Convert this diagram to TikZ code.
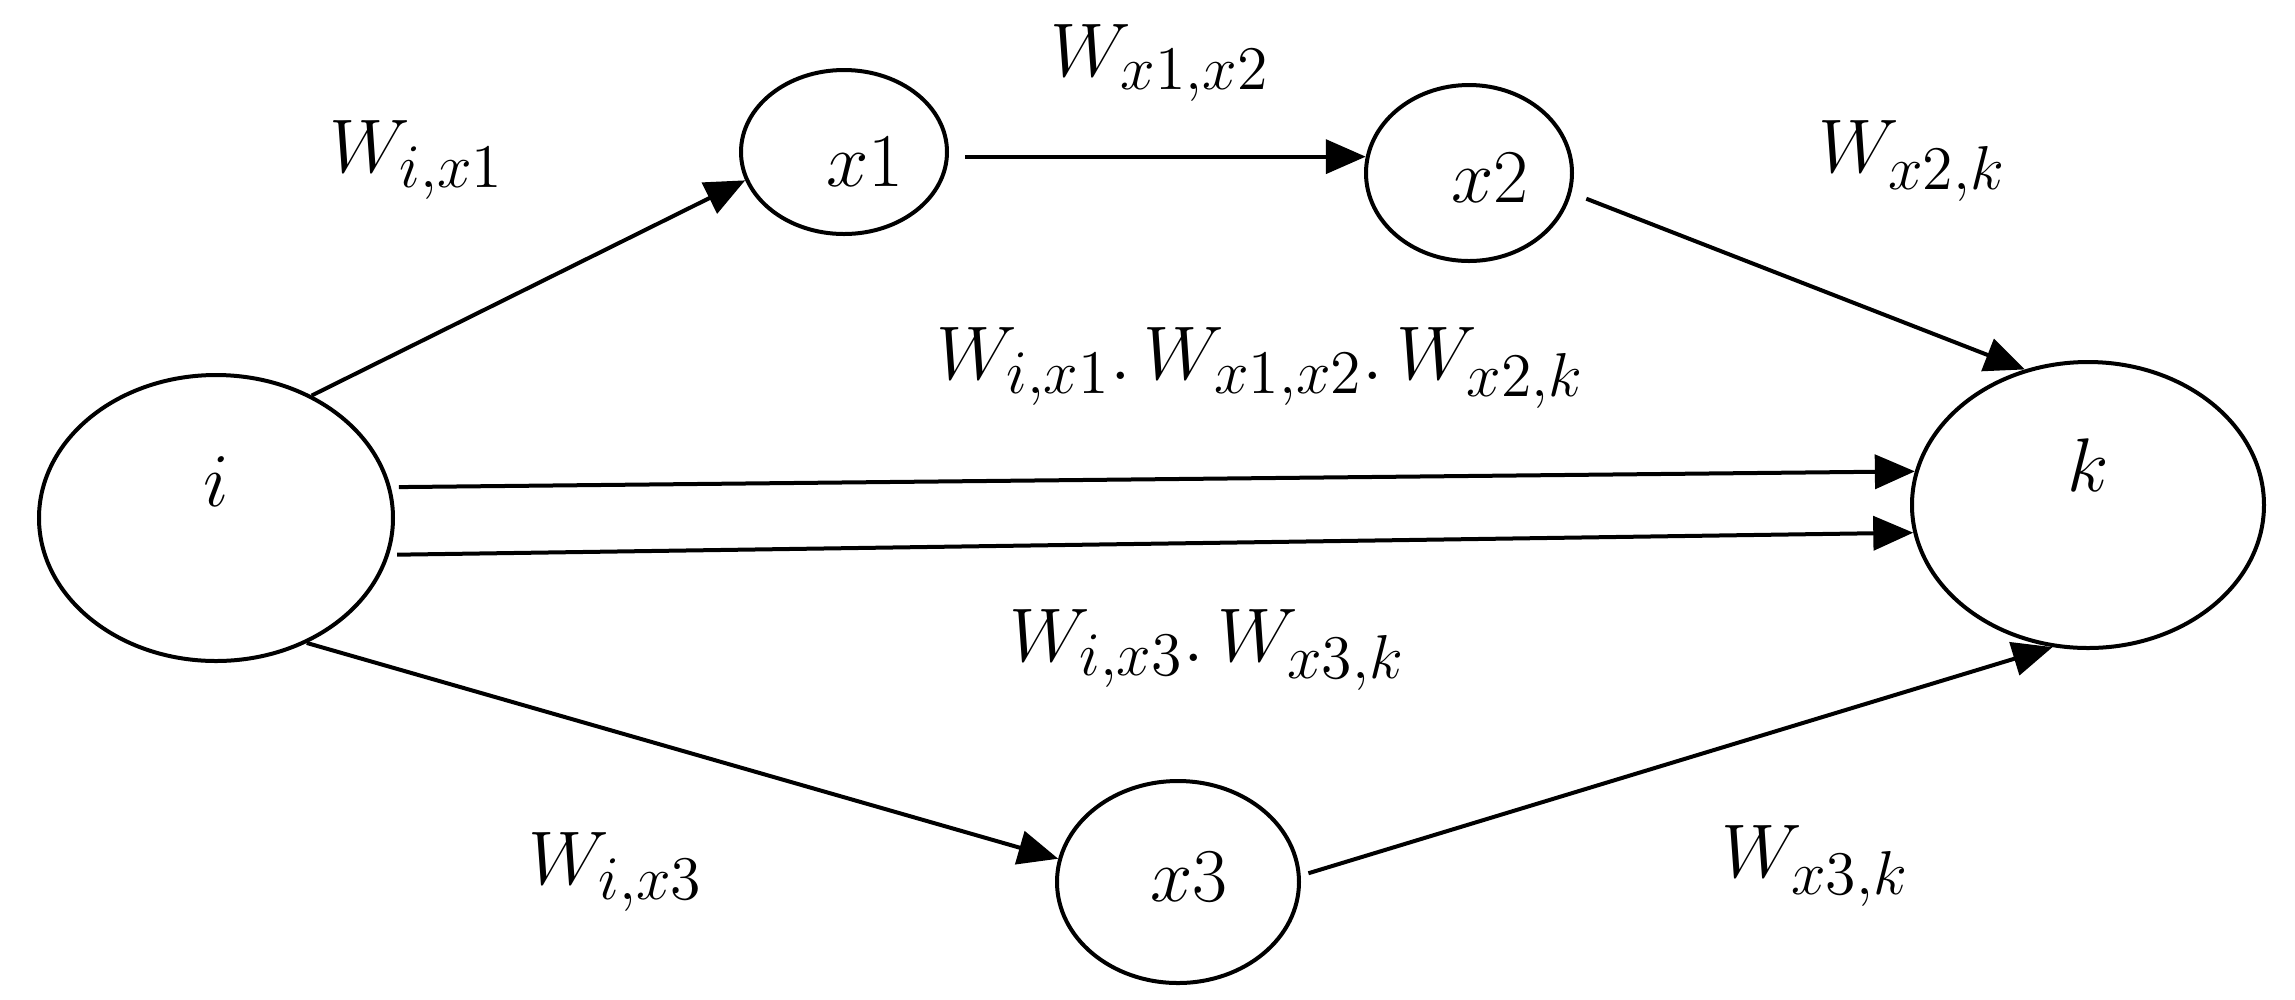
\documentclass[tikz,border=0pt]{standalone}
\usepackage{fix-cm}
\DeclareMathSizes{19}{19}{15.5}{12}
\usetikzlibrary{shapes.geometric,arrows.meta}
\begin{document}
\begin{tikzpicture}[x=0.25pt,y=-0.25pt,
  nd/.style={draw, ellipse, line width=1pt, inner sep=0pt},
  lbl/.style={font=\fontsize{19}{23}\selectfont, inner sep=0pt},
  arr/.style={line width=1pt, -{Triangle[length=10pt,width=8.5pt]}}]
\useasboundingbox (0,0) rectangle (2295,999);
% nodes
\node[nd, minimum width=88.5pt, minimum height=71.5pt,
      label={[lbl,yshift=9pt]center:$i$}] (i) at (216,518) {};
\node[nd, minimum width=88pt, minimum height=71.5pt,
      label={[lbl,yshift=10pt]center:$k$}] (k) at (2088,505) {};
\node[nd, minimum width=51.5pt, minimum height=41pt,
      label={[lbl,xshift=5.25pt,yshift=-2.5pt]center:$x1$}] (x1) at (844,152) {};
\node[nd, minimum width=51.5pt, minimum height=44pt,
      label={[lbl,xshift=5.25pt,yshift=-1.25pt]center:$x2$}] (x2) at (1469,173) {};
\node[nd, minimum width=60.5pt, minimum height=50.5pt,
      label={[lbl,xshift=2.75pt,yshift=1.25pt]center:$x3$}] (x3) at (1178,882) {};
% connectors
\draw[arr] (i.52.5) -- (x1.196);
\draw[arr, shorten <=4pt] (x1.east |- x2.171) -- (x2.171);
\draw[arr, shorten <=4pt] (x2.-11) -- (k.115);
\draw[arr, shorten <=2pt] (i.10.8) -- (k.169.3);
\draw[arr, shorten <=2pt] (i.-12.8) -- (k.189.4);
\draw[arr] (i.-54.3) -- (x3.169);
\draw[arr, shorten <=2pt] (x3.3) -- (k.256);
% labels
\node[lbl] (wix1) at (417,160) {$W_{i,x1}$};
\node[lbl] (wx1x2) at (1160,63) {$W_{x1,x2}$};
\node[lbl] (wx2k) at (1912,161) {$W_{x2,k}$};
\node[lbl] (wtop) at (1260,368) {$W_{i,x1}.\,W_{x1,x2}.\,W_{x2,k}$};
\node[lbl] (wbot) at (1207,650) {$W_{i,x3}.\,W_{x3,k}$};
\node[lbl] (wix3) at (616,872) {$W_{i,x3}$};
\node[lbl] (wx3k) at (1815,866) {$W_{x3,k}$};
\end{tikzpicture}
\end{document}
